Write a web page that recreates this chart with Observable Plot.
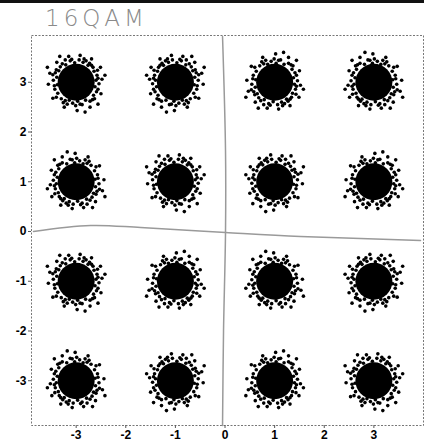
<!DOCTYPE html>
<html>
<head>
<meta charset="utf-8">
<script src="https://cdn.jsdelivr.net/npm/d3@7"></script>
<script src="https://cdn.jsdelivr.net/npm/@observablehq/plot@0.6"></script>
<style>
  html, body { margin: 0; padding: 0; background: #fff; }
  #wrap { position: relative; width: 430px; height: 445px; }
  #scanline { position: absolute; left: 0; top: 0; width: 424px; height: 3px; background: #111; }
  #title { position: absolute; left: 45px; top: 5px; font-family: "DejaVu Sans", sans-serif; font-size: 23px; font-weight: 200; color: #8a8a8a; letter-spacing: 4px; }
</style>
</head>
<body>
<div id="wrap">
  <div id="chart"></div>
  <div id="scanline"></div>
  <div id="title">16QAM</div>
</div>
<script>
// Constellation levels (I and Q)
const levelsI = [-3, -1, 1, 3];
const levelsQ = [3, 1, -1, -3];
// Axis tick labels
const xTicks = [-3, -2, -1, 0, 1, 2, 3];
const yTicks = [-3, -2, -1, 0, 1, 2, 3];
// Noise scatter around a symbol (offsets read approximately from the clusters)
const noiseDx = [0.40,0.42,0.36,0.34,0.24,0.27,0.14,0.06,-0.03,-0.12,-0.21,-0.28,-0.35,-0.40,-0.39,-0.46,-0.38,-0.43,-0.37,-0.30,-0.22,-0.14,-0.07,0.03,0.12,0.19,0.28,0.35,0.41,0.38,0.46,0.43,-0.47,-0.22,0.16,0.37,-0.40,-0.01,
                 0.44,0.31,-0.09,-0.32,-0.44,-0.26,0.08,0.33,0.44,0.20,-0.42,-0.18,
                 0.52,0.49,0.31,0.08,-0.15,-0.39,-0.53,-0.56,-0.47,-0.24,0.02,0.28,0.50,0.58,-0.33,0.44,-0.58,0.18];
const noiseDy = [0.04,0.14,0.22,0.30,0.34,0.38,0.40,0.45,0.39,0.43,0.35,0.37,0.23,0.25,0.10,0.04,-0.05,-0.14,-0.22,-0.33,-0.37,-0.36,-0.42,-0.38,-0.45,-0.36,-0.38,-0.26,-0.19,-0.09,-0.03,0.24,0.15,0.45,0.47,-0.33,-0.30,-0.47,
                 0.08,0.34,0.46,0.31,-0.07,-0.41,-0.44,-0.35,-0.14,0.43,0.19,-0.44,
                 0.06,0.30,0.47,0.54,0.52,0.40,0.18,-0.04,-0.32,-0.50,-0.57,-0.50,-0.23,0.14,0.52,-0.44,0.30,-0.60];
// Orientation of the scatter pattern for each of the 16 clusters
const flipX = [1,-1,1,-1, -1,1,-1,1, 1,1,-1,-1, -1,-1,1,1];
const flipY = [1,1,-1,-1, -1,1,1,-1, 1,-1,-1,1, -1,1,-1,1];
// Hand-drawn axis lines on the printout
const handHx = [-3.86, -2.71, -1.70, 0.01, 1.52, 3.94];
const handHy = [0.00, 0.12, 0.08, -0.02, -0.10, -0.18];
const handVx = [-0.05, 0.01, 0.01, -0.03, -0.05];
const handVy = [3.92, 1.63, -0.02, -2.00, -3.90];

const centers = levelsQ.flatMap(q => levelsI.map(i => ({x: i, y: q})));
const points = centers.flatMap((c, j) => noiseDx.map((dx, k) => ({x: c.x + flipX[j] * dx, y: c.y + flipY[j] * noiseDy[k]})));
const handH = handHx.map((x, k) => ({x, y: handHy[k]}));
const handV = handVx.map((x, k) => ({x, y: handVy[k]}));

const fmt = d => String(d);

const chart = Plot.plot({
  width: 430,
  height: 445,
  marginLeft: 31,
  marginRight: 7,
  marginTop: 35,
  marginBottom: 20,
  x: {domain: [-3.9, 4.0]},
  y: {domain: [-3.9, 3.94]},
  style: {fontFamily: "Liberation Sans, Arial, sans-serif", fontSize: "12px", color: "#000", background: "#fff"},
  marks: [
    Plot.frame({stroke: "#777", strokeDasharray: "2,1.5", strokeWidth: 1}),
    Plot.axisX({ticks: xTicks, tickFormat: fmt, tickSize: 3, tickPadding: 2, stroke: "#555", fill: "#000", fontWeight: "bold", label: null}),
    Plot.axisY({ticks: yTicks, tickFormat: fmt, tickSize: 3, tickPadding: 2, stroke: "#555", fill: "#000", fontWeight: "bold", label: null}),
    Plot.line(handH, {x: "x", y: "y", stroke: "#9a9a9a", strokeWidth: 1.5, curve: "catmull-rom"}),
    Plot.line(handV, {x: "x", y: "y", stroke: "#9a9a9a", strokeWidth: 1.5, curve: "catmull-rom"}),
    Plot.dot(centers, {x: "x", y: "y", r: 18.5, fill: "#000"}),
    Plot.dot(points, {x: "x", y: "y", r: 1.8, fill: "#000"})
  ]
});
document.getElementById("chart").appendChild(chart);
</script>
</body>
</html>
